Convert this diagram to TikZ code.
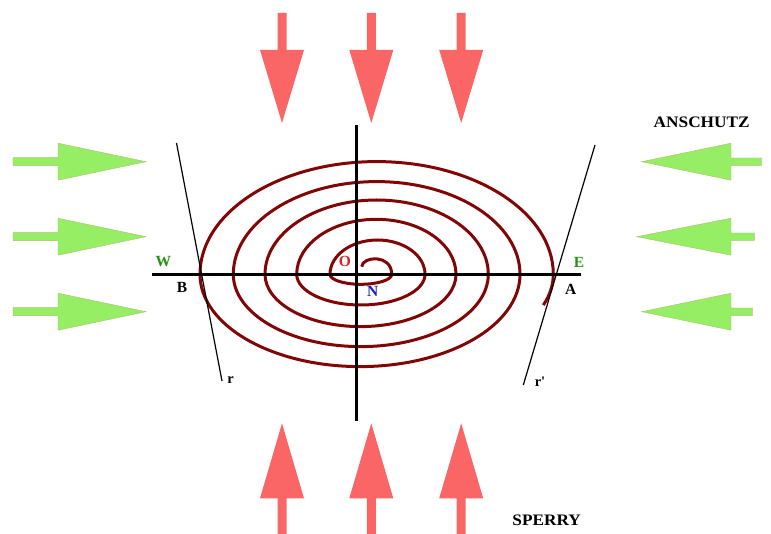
\documentclass[tikz,border=0pt]{standalone}
\usepackage{fontspec}
\setmainfont{Liberation Serif}
\newfontfamily\plainserif{Liberation Serif}[Ligatures=TeXOff]
\definecolor{arrred}{RGB}{250,102,102}
\definecolor{arrgreen}{RGB}{150,238,100}
\definecolor{arrgreenedge}{RGB}{175,190,110}
\definecolor{spiral}{RGB}{130,5,5}
\definecolor{lblgreen}{RGB}{40,145,20}
\definecolor{lblred}{RGB}{225,30,30}
\definecolor{lblblue}{RGB}{30,30,200}
\tikzset{
  redarrow/.style={fill=arrred},
  greenarrow/.style={fill=arrgreen,draw=arrgreenedge,line width=0.4pt},
  axisline/.style={line width=3pt,black},
  tangentline/.style={line width=1.2pt,black},
  spiralline/.style={line width=3pt,spiral},
  lbl/.style={inner sep=0pt,font=\bfseries\fontsize{15.5}{15.5}\selectfont},
  smalllbl/.style={inner sep=0pt,font=\plainserif\bfseries\fontsize{14.5}{14.5}\selectfont},
  title/.style={inner sep=0pt,xscale=1.08,font=\bfseries\fontsize{16}{16}\selectfont}
}
\newcommand{\downarrowshape}[1]{%
  \fill[redarrow] (#1-4.5,13) -- (#1+4.5,13) -- (#1+4.5,50) -- (#1+22,50) -- (#1,123) -- (#1-22,50) -- (#1-4.5,50) -- cycle;}
\newcommand{\uparrowshape}[1]{%
  \fill[redarrow] (#1-4.5,534) -- (#1+4.5,534) -- (#1+4.5,498.3) -- (#1+22,498.3) -- (#1,423.3) -- (#1-22,498.3) -- (#1-4.5,498.3) -- cycle;}
\newcommand{\rightarrowshape}[1]{%
  \filldraw[greenarrow] (13,#1-4) -- (58,#1-4) -- (58,#1-18.5) -- (146,#1) -- (58,#1+18.5) -- (58,#1+4) -- (13,#1+4) -- cycle;}
\newcommand{\leftarrowshape}[3]{%
  \filldraw[greenarrow] (#3,#1-3.7) -- (731,#1-3.7) -- (731,#1-18.5) -- (#2,#1) -- (731,#1+18.5) -- (731,#1+3.7) -- (#3,#1+3.7) -- cycle;}
\begin{document}
\begin{tikzpicture}[x=1pt,y=-1pt]
\useasboundingbox (0,0) rectangle (771,534);
% red arrows
\downarrowshape{282}
\downarrowshape{371.3}
\downarrowshape{461.2}
\uparrowshape{282}
\uparrowshape{371.3}
\uparrowshape{461.2}
% green arrows
\rightarrowshape{161.7}
\rightarrowshape{236.7}
\rightarrowshape{311.7}
\leftarrowshape{161.7}{641.7}{761.7}
\leftarrowshape{236.7}{636.7}{754.3}
\leftarrowshape{311.7}{641.7}{752.7}
% spiral
\draw[spiralline] (361.7,266.7) .. controls (362.5,256) and (391.7,254) .. (391.7,274.3)
  arc[start angle=0,end angle=180,x radius=30.85,y radius=10]
  arc[start angle=180,end angle=360,x radius=47.5,y radius=34.3]
  arc[start angle=0,end angle=180,x radius=64.15,y radius=30.7]
  arc[start angle=180,end angle=360,x radius=79.65,y radius=55]
  arc[start angle=0,end angle=180,x radius=95.5,y radius=52.3]
  arc[start angle=180,end angle=360,x radius=111.65,y radius=74.3]
  arc[start angle=0,end angle=180,x radius=127.5,y radius=72.3]
  arc[start angle=180,end angle=360,x radius=143.35,y radius=92.7]
  arc[start angle=0,end angle=180,x radius=160,y radius=92.3]
  arc[start angle=180,end angle=360,x radius=176.65,y radius=112.7]
  arc[start angle=0,end angle=18.5,x radius=192.5,y radius=97];
% axes
\coordinate (hl) at (152,274.3);
\coordinate (hr) at (581,274.3);
\coordinate (vt) at (356.7,125);
\coordinate (vb) at (356.7,421);
\draw[axisline] (hl) -- (hr);
\draw[axisline] (vt) -- (vb);
% tangent lines
\coordinate (lt) at (176.5,143);
\coordinate (lb) at (222,381);
\coordinate (rt) at (595,145);
\coordinate (rb) at (523.3,385);
\draw[tangentline] (lt) -- (lb);
\draw[tangentline] (rt) -- (rb);
% labels
\node[lbl,text=lblgreen] (W) at (163.3,261.7) {W};
\node[lbl] (B) at (182,287.7) {B};
\node[lbl,text=lblgreen] (E) at (579,262.3) {E};
\node[lbl] (A) at (570.7,289.3) {A};
\node[lbl,text=lblred] (O) at (345,261.7) {O};
\node[lbl,text=lblblue] (N) at (372.7,291.7) {N};
\node[smalllbl] (r) at (230.7,380) {r};
\node[smalllbl] (rp) at (540,382) {r'};
\node[title] (ans) at (701.7,122.7) {ANSCHUTZ};
\node[title] (sp) at (546.7,520) {SPERRY};
\end{tikzpicture}
\end{document}
